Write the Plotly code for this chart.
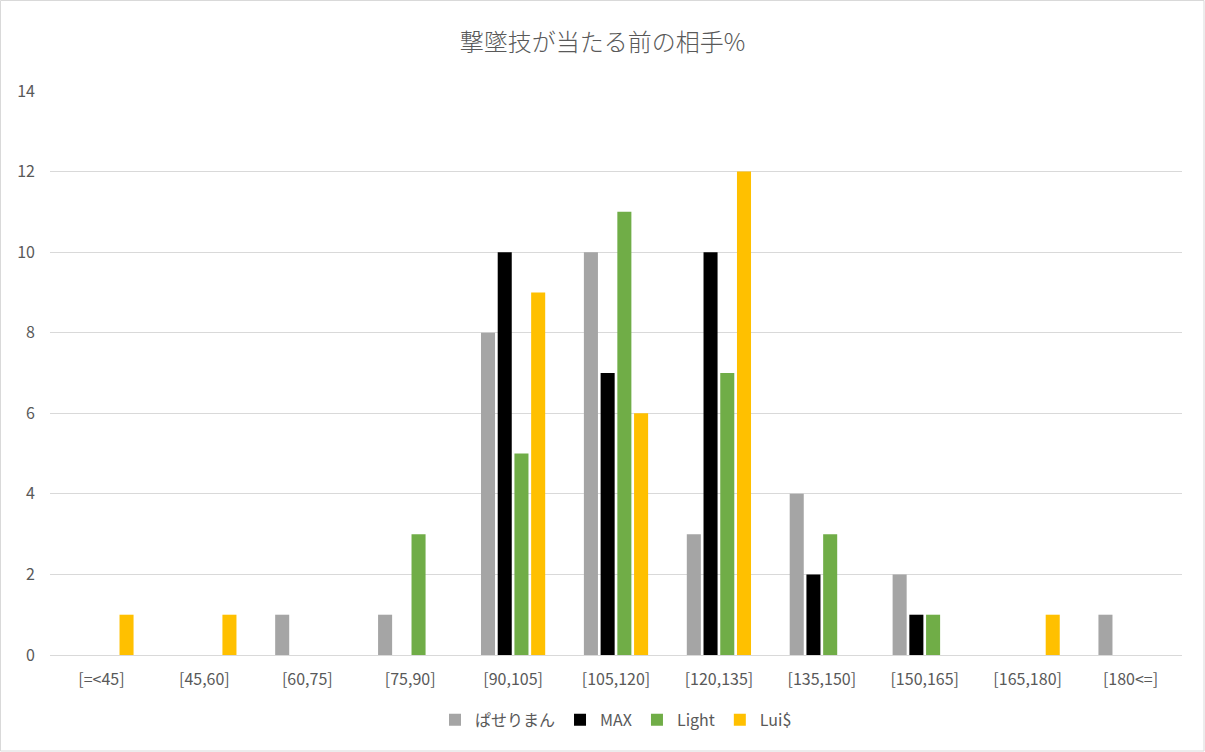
import plotly.graph_objects as go

categories = ["[=<45]", "[45,60]", "[60,75]", "[75,90]", "[90,105]", "[105,120]",
              "[120,135]", "[135,150]", "[150,165]", "[165,180]", "[180<=]"]
paseriman = [0, 0, 1, 1, 8, 10, 3, 4, 2, 0, 1]
max_vals = [0, 0, 0, 0, 10, 7, 10, 2, 1, 0, 0]
light = [0, 0, 0, 3, 5, 11, 7, 3, 1, 0, 0]
luis = [1, 1, 0, 0, 9, 6, 12, 0, 0, 1, 0]

series = [("ぱせりまん", paseriman, "#A5A5A5"),
          ("MAX", max_vals, "#000000"),
          ("Light", light, "#70AD47"),
          ("Lui$", luis, "#FFC000")]

font_family = "Noto Sans CJK JP, Noto Sans, sans-serif"
text_color = "#595959"

fig = go.Figure()
for name, vals, color in series:
    fig.add_trace(go.Bar(x=categories, y=vals, name=name, marker_color=color,
                         marker_line_width=0))

fig.update_layout(
    width=1205, height=752,
    paper_bgcolor="white", plot_bgcolor="white",
    margin=dict(l=50, r=23, t=91, b=97),
    barmode="group", bargap=0.35, bargroupgap=0.16,
    font=dict(family=font_family, color=text_color, size=15),
    title=dict(text="撃墜技が当たる前の相手%", x=0.5, xanchor="center",
               y=0.943, yanchor="middle",
               font=dict(size=24, color=text_color, family=font_family, weight=300)),
    legend=dict(orientation="h", x=0.5, xanchor="center", y=-0.115, yanchor="middle",
                font=dict(size=16, color=text_color), itemwidth=30,
                traceorder="normal"),
    shapes=[dict(type="rect", xref="paper", yref="paper",
                 x0=-49.5/1132, x1=1+22/1132, y0=-96/564, y1=1+90.5/564,
                 line=dict(color="#D9D9D9", width=1))],
)
fig.update_xaxes(showgrid=False, showline=True, linecolor="#D9D9D9", linewidth=1,
                 ticks="", tickfont=dict(size=16, color=text_color), ticklabelstandoff=10)
fig.update_yaxes(range=[0, 14], dtick=2, showgrid=True, gridcolor="#D9D9D9",
                 gridwidth=1, zeroline=False, showline=False, ticks="",
                 tickfont=dict(size=16, color=text_color), ticklabelstandoff=14)

fig.write_html("out.html", config={"displayModeBar": False},
               post_script="document.body.style.margin='0';")
